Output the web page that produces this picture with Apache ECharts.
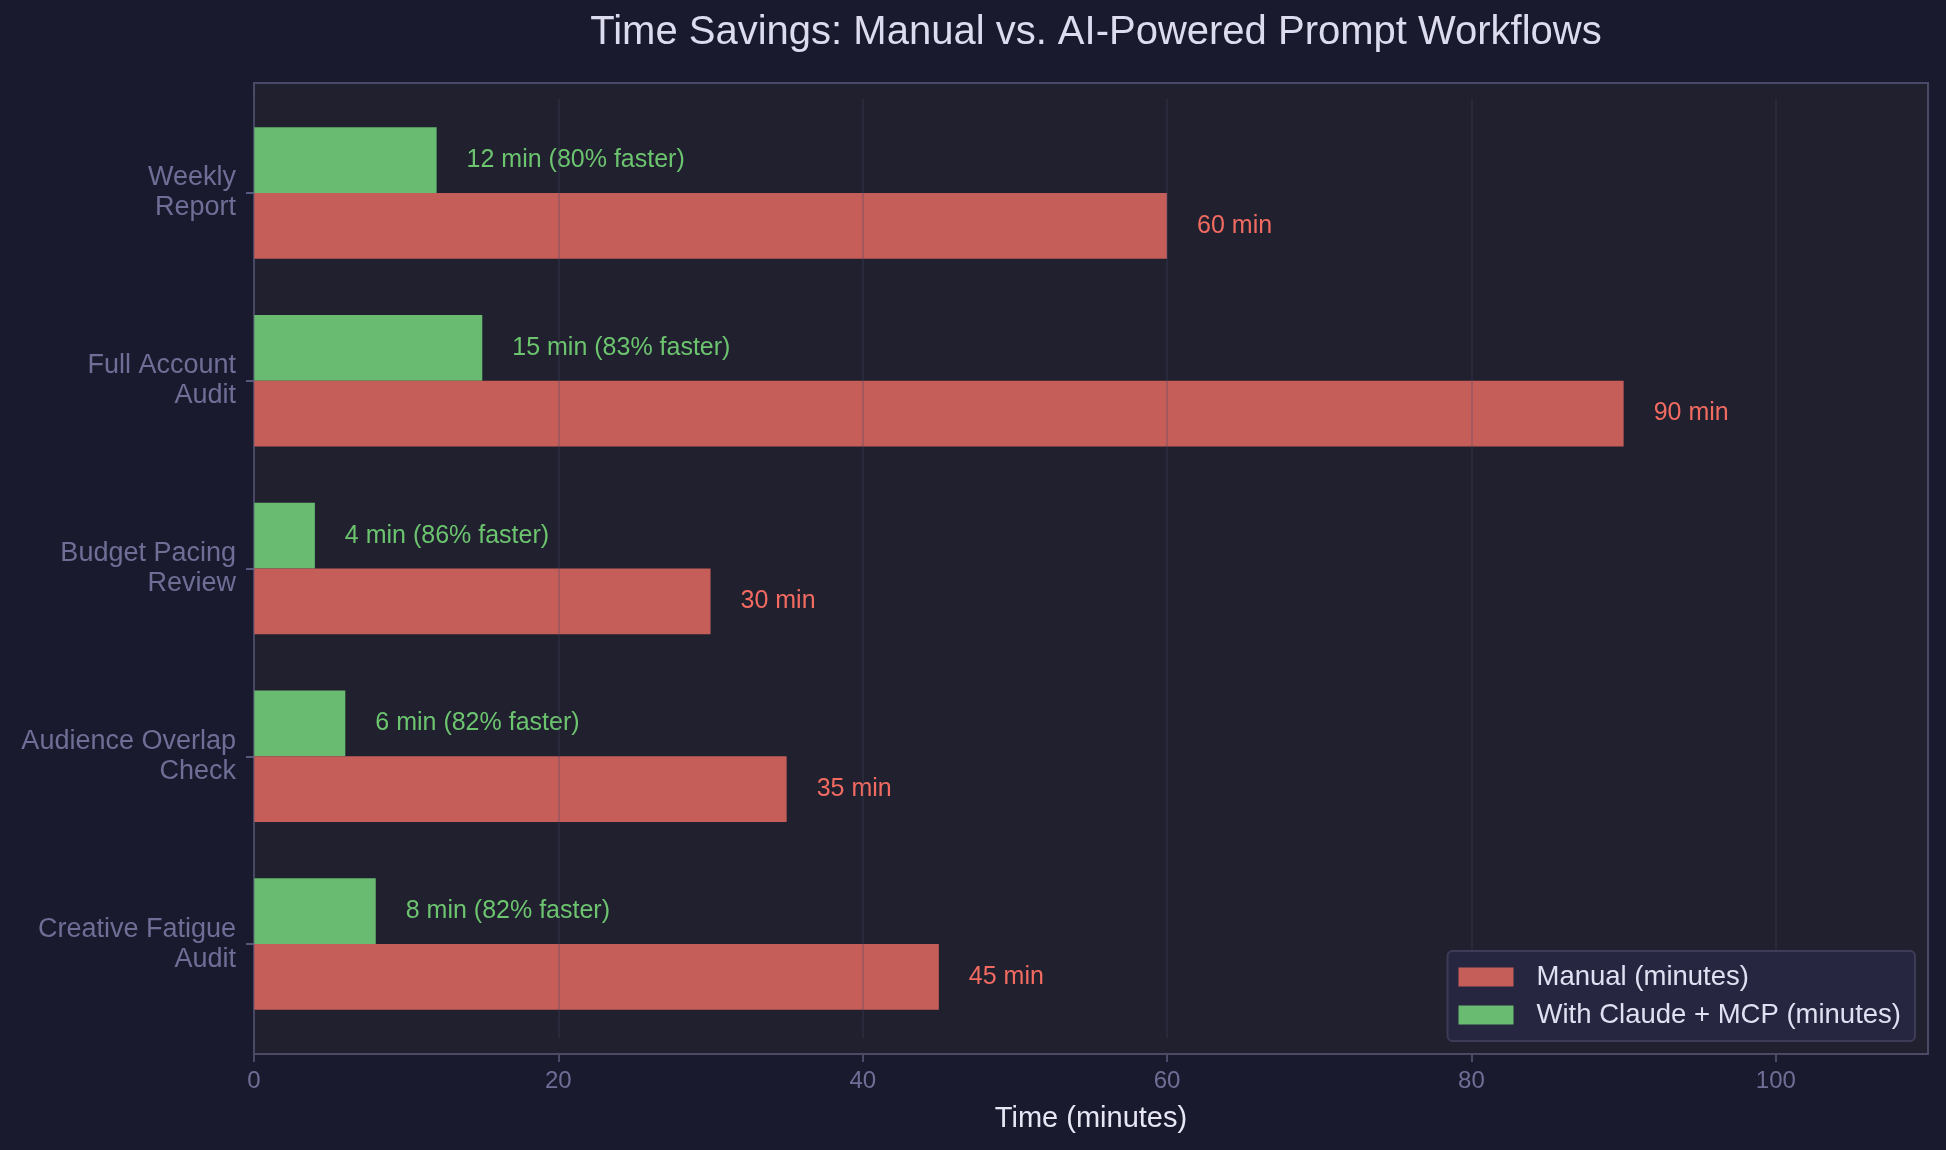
<!DOCTYPE html>
<html>
<head>
    <meta charset="utf-8">
    <title>Time Savings</title>
    <script src="https://cdn.jsdelivr.net/npm/echarts@6/dist/echarts.min.js"></script>
    <style>
        html, body { margin: 0; padding: 0; background: #1a1a2e; }
    </style>
</head>
<body>
<div id="main" style="width: 1946px;height:1150px;"></div>
<script type="text/javascript">
    // data
    var categories = ['Weekly\nReport', 'Full Account\nAudit', 'Budget Pacing\nReview', 'Audience Overlap\nCheck', 'Creative Fatigue\nAudit'];
    var manual = [60, 90, 30, 35, 45];
    var withClaude = [12, 15, 4, 6, 8];
    var xTicks = [0, 20, 40, 60, 80, 100];

    var font = 'Liberation Sans, Arial, sans-serif';
    var myChart = echarts.init(document.getElementById('main'));

    var option = {
        backgroundColor: '#1a1a2e',
        textStyle: {fontFamily: font},
        title: {
            text: 'Time Savings: Manual vs. AI-Powered Prompt Workflows',
            left: 1091,
            textAlign: 'center',
            top: 8,
            textStyle: {color: '#dcdcee', fontSize: 40, fontWeight: 'normal', fontFamily: font}
        },
        // plot frame (matplotlib axes patch)
        graphic: [{
            type: 'rect',
            z: -10,
            silent: true,
            shape: {x: 254, y: 83, width: 1674, height: 971},
            style: {fill: '#20202f', stroke: '#4a4a66', lineWidth: 2}
        }],
        grid: {left: 254, right: 18, top: 99, bottom: 112},
        legend: {
            orient: 'vertical',
            right: 31,
            bottom: 109,
            itemWidth: 55,
            itemHeight: 19,
            itemGap: 10,
            padding: [12, 14, 12, 11],
            backgroundColor: '#262640',
            borderColor: '#3c3c58',
            borderWidth: 2,
            borderRadius: 5,
            icon: 'rect',
            textStyle: {color: '#e0e0f2', fontSize: 27.5, fontFamily: font, padding: [0, 0, 0, 18]},
            data: ['Manual (minutes)', 'With Claude + MCP (minutes)']
        },
        xAxis: {
            type: 'value',
            min: 0,
            max: 110,
            interval: 20,
            offset: 16,
            z: 3,
            name: 'Time (minutes)',
            nameLocation: 'middle',
            nameGap: 50,
            nameTextStyle: {color: '#e6e6f5', fontSize: 29, fontFamily: font},
            axisLine: {show: false},
            axisTick: {show: true, length: 8, customValues: xTicks, lineStyle: {color: '#4a4a66', width: 2}},
            axisLabel: {customValues: xTicks, color: '#6e6e96', fontSize: 24, margin: 15, fontFamily: font},
            splitLine: {show: true, lineStyle: {color: 'rgba(70,70,100,0.35)', width: 1.5}}
        },
        yAxis: {
            type: 'category',
            inverse: true,
            data: categories,
            axisLine: {show: false},
            axisTick: {show: true, alignWithLabel: true, length: 8, lineStyle: {color: '#6e6e96', width: 1.5}},
            axisLabel: {color: '#6e6e96', fontSize: 27, lineHeight: 30, margin: 18, fontFamily: font},
            splitLine: {show: false}
        },
        // green series first so it sits above the red one in each row
        series: [{
            name: 'With Claude + MCP (minutes)',
            type: 'bar',
            data: withClaude,
            barWidth: '35%',
            barGap: '0%',
            itemStyle: {color: '#68bb71'},
            label: {
                show: true,
                position: 'right',
                distance: 30,
                color: '#6cc46f',
                fontSize: 25,
                fontFamily: font,
                formatter: function (p) {
                    var m = manual[p.dataIndex];
                    var pct = Math.floor((m - p.value) * 100 / m);
                    return p.value + ' min (' + pct + '% faster)';
                }
            }
        }, {
            name: 'Manual (minutes)',
            type: 'bar',
            data: manual,
            barWidth: '35%',
            barGap: '0%',
            itemStyle: {color: '#c55e59'},
            label: {
                show: true,
                position: 'right',
                distance: 30,
                color: '#f26b61',
                fontSize: 25,
                fontFamily: font,
                formatter: function (p) { return p.value + ' min'; }
            }
        }]
    };
    myChart.setOption(option);
</script>
</body>
</html>
